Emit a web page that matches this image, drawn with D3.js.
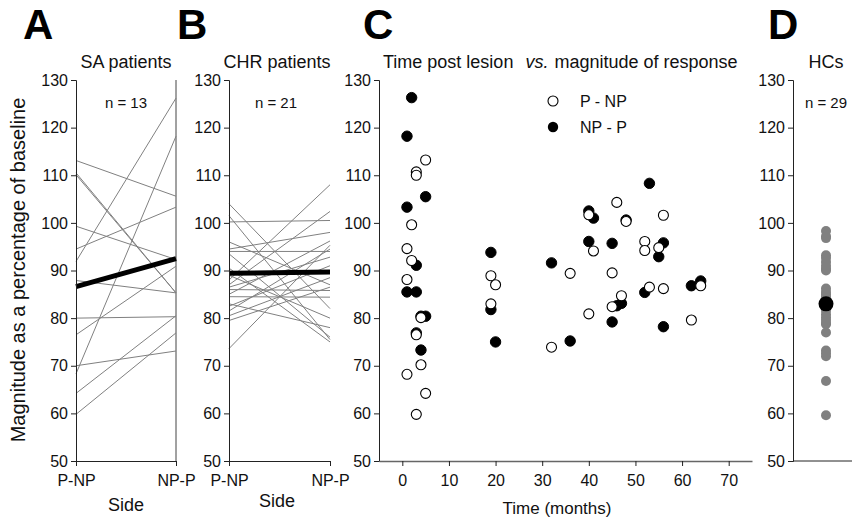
<!DOCTYPE html>
<html>
<head>
<meta charset="utf-8">
<script src="https://cdn.jsdelivr.net/npm/d3@7"></script>
<style>
  body { margin: 0; background: #fff; }
  svg { font-family: "Liberation Sans", Arial, sans-serif; }
</style>
</head>
<body>
<svg id="chart" width="852" height="522"></svg>
<script>
// panel A: SA patients, P-NP -> NP-P
const sides = ["P-NP", "NP-P"];
const saLeft  = [113.1, 110.5, 110.1, 99.3, 94.5, 91.9, 87.9, 80.0, 76.5, 70.0, 68.3, 64.2, 59.8];
const saRight = [105.6, 85.3, 85.3, 92.3, 103.3, 126.2, 85.3, 80.3, 90.9, 73.1, 118.2, 80.5, 76.9];
const saMean = [86.6, 92.5];

// panel B: CHR patients
const chrLeft  = [104.0, 101.5, 100.2, 96.0, 94.5, 94.0, 93.5, 90.5, 89.0, 88.0, 87.0,
                  86.5, 86.0, 85.0, 84.5, 83.0, 82.5, 81.5, 80.5, 79.5, 73.6];
const chrRight = [82.0, 75.5, 100.5, 87.0, 98.0, 94.0, 76.0, 75.0, 80.0, 108.0, 102.4,
                  92.8, 85.8, 96.2, 84.4, 78.0, 91.0, 94.5, 88.5, 86.5, 95.3];
const chrMean = [89.4, 89.7];

// panel C: time post lesion vs magnitude
const pnpMonths = [5, 3, 3, 2, 1, 2, 1, 4, 3, 4, 1, 5, 3,
                   19, 20, 19, 46, 40, 48, 56, 52, 52, 55, 41, 36, 45, 53, 56, 47, 45, 64, 40, 62, 32];
const pnpValues = [113.2, 110.7, 110.0, 99.6, 94.6, 92.1, 88.1, 80.1, 76.5, 70.2, 68.2, 64.2, 59.8,
                   88.9, 87.0, 83.0, 104.3, 101.7, 100.3, 101.6, 96.1, 94.2, 94.8, 94.1, 89.4, 89.5,
                   86.5, 86.2, 84.7, 82.4, 86.8, 80.9, 79.6, 73.9];
const nppMonths = [2, 1, 1, 5, 3, 1, 3, 4, 5, 3, 4,
                   19, 19, 20, 53, 40, 41, 48, 40, 45, 56, 55, 32, 52, 47, 46, 62, 64, 45, 56, 36];
const nppValues = [126.3, 118.2, 103.3, 105.5, 91.1, 85.5, 85.5, 80.4, 80.4, 76.9, 73.3,
                   93.8, 81.8, 75.0, 108.3, 102.5, 101.0, 100.6, 96.1, 95.7, 95.8, 92.9, 91.6,
                   85.4, 83.1, 82.6, 86.8, 87.8, 79.2, 78.2, 75.2];
const monthTicks = [0, 10, 20, 30, 40, 50, 60, 70];

// panel D: healthy controls
const hcValues = [98.3, 97.2, 96.8, 93.2, 92.6, 91.8, 91.0, 90.4, 90.0, 86.2, 85.5, 85.0,
                  84.5, 84.0, 83.8, 82.5, 82.0, 81.6, 80.8, 80.2, 79.6, 79.0, 78.7, 77.0,
                  73.2, 72.6, 72.0, 66.8, 59.6];
const hcMean = 83.0;

const yTicks = [50, 60, 70, 80, 90, 100, 110, 120, 130];

const svg = d3.select("#chart");
const y = d3.scaleLinear().domain([50, 130]).range([461, 80]);
const grey = "#808080";

const yAxis = (x0) => {
  const g = svg.append("g").attr("transform", `translate(${x0},0)`)
    .call(d3.axisLeft(y).tickValues(yTicks).tickSize(5).tickPadding(3));
  g.select(".domain").attr("stroke", "#222");
  g.selectAll(".tick line").attr("stroke", "#222");
  g.selectAll("text").attr("font-size", 16).attr("fill", "#111")
    .attr("font-family", "Liberation Sans, Arial, sans-serif");
  return g;
};

const bottomAxis = (scale, ticks, size) => {
  const g = svg.append("g").attr("transform", `translate(0,${y(50)})`)
    .call(d3.axisBottom(scale).tickValues(ticks).tickSize(5).tickPadding(9).tickSizeOuter(0));
  g.select(".domain").attr("stroke", "#222");
  g.selectAll(".tick line").attr("stroke", "#222");
  g.selectAll("text").attr("font-size", size).attr("fill", "#111")
    .attr("font-family", "Liberation Sans, Arial, sans-serif");
  return g;
};

const label = (x, yy, txt, size) => svg.append("text").attr("x", x).attr("y", yy)
  .attr("text-anchor", "middle").attr("font-size", size).attr("fill", "#111").text(txt);

const bigLetter = (x, txt) => svg.append("text").attr("x", x).attr("y", 39)
  .attr("font-size", 42).attr("font-weight", "bold").attr("fill", "#000").text(txt);

// ---------- panel A ----------
const xA = d3.scalePoint().domain(sides).range([76, 176]);
svg.append("line").attr("x1", xA("NP-P")).attr("x2", xA("NP-P"))
  .attr("y1", y(130)).attr("y2", y(50)).attr("stroke", "#444");
svg.selectAll(".saLine").data(saLeft).enter().append("line")
  .attr("x1", xA("P-NP")).attr("x2", xA("NP-P"))
  .attr("y1", d => y(d)).attr("y2", (d, i) => y(saRight[i]))
  .attr("stroke", grey).attr("stroke-width", 1);
svg.append("line").attr("x1", xA("P-NP")).attr("x2", xA("NP-P"))
  .attr("y1", y(saMean[0])).attr("y2", y(saMean[1]))
  .attr("stroke", "#000").attr("stroke-width", 5);
yAxis(76);
bottomAxis(xA, sides, 16);
bigLetter(23, "A");
label(126, 68, "SA patients", 18);
label(126, 108, "n = 13", 15);
label(126, 511, "Side", 18);

// ---------- panel B ----------
const xB = d3.scalePoint().domain(sides).range([229, 330]);
svg.selectAll(".chrLine").data(chrLeft).enter().append("line")
  .attr("x1", xB("P-NP")).attr("x2", xB("NP-P"))
  .attr("y1", d => y(d)).attr("y2", (d, i) => y(chrRight[i]))
  .attr("stroke", grey).attr("stroke-width", 1);
svg.append("line").attr("x1", xB("P-NP")).attr("x2", xB("NP-P"))
  .attr("y1", y(chrMean[0])).attr("y2", y(chrMean[1]))
  .attr("stroke", "#000").attr("stroke-width", 5);
yAxis(229);
bottomAxis(xB, sides, 16);
bigLetter(177, "B");
label(277, 68, "CHR patients", 18);
label(276, 108, "n = 21", 15);
label(277, 507, "Side", 18);

// ---------- panel C ----------
const xC = d3.scaleLinear().domain([-5, 75]).range([379, 752]);
yAxis(379);
const axC = bottomAxis(xC, monthTicks, 16);
axC.select(".domain").attr("stroke", "#666").attr("stroke-width", 1.5);
svg.selectAll(".npp").data(nppValues).enter().append("circle")
  .attr("cx", (d, i) => xC(nppMonths[i])).attr("cy", d => y(d)).attr("r", 5.2)
  .attr("fill", "#000").attr("stroke", "#000");
svg.selectAll(".pnp").data(pnpValues).enter().append("circle")
  .attr("cx", (d, i) => xC(pnpMonths[i])).attr("cy", d => y(d)).attr("r", 5)
  .attr("fill", "#fff").attr("stroke", "#000").attr("stroke-width", 1.1);
bigLetter(363, "C");
const titleC = svg.append("text").attr("x", 383).attr("y", 68)
  .attr("font-size", 18).attr("fill", "#111");
titleC.append("tspan").text("Time post lesion");
titleC.append("tspan").attr("dx", 12).attr("font-style", "italic").text("vs.");
titleC.append("tspan").attr("dx", 6).text("magnitude of response");
label(557, 514, "Time (months)", 17);

// legend
svg.append("circle").attr("cx", 553).attr("cy", 101).attr("r", 5)
  .attr("fill", "#fff").attr("stroke", "#000").attr("stroke-width", 1.1);
svg.append("circle").attr("cx", 553).attr("cy", 127).attr("r", 5.2).attr("fill", "#000");
svg.append("text").attr("x", 580).attr("y", 107).attr("font-size", 16).attr("fill", "#111").text("P - NP");
svg.append("text").attr("x", 580).attr("y", 133).attr("font-size", 16).attr("fill", "#111").text("NP - P");

// ---------- panel D ----------
const xD = d3.scaleBand().domain(["HCs"]).range([793, 859]);
const cxD = xD("HCs") + xD.bandwidth() / 2;
yAxis(793);
svg.append("line").attr("x1", 793).attr("x2", 852).attr("y1", y(50)).attr("y2", y(50))
  .attr("stroke", "#222");
svg.selectAll(".hc").data(hcValues).enter().append("circle")
  .attr("cx", cxD).attr("cy", d => y(d)).attr("r", 5).attr("fill", grey);
svg.append("circle").attr("cx", cxD).attr("cy", y(hcMean)).attr("r", 7.5).attr("fill", "#000");
bigLetter(768, "D");
label(826, 68, "HCs", 18);
label(826, 108, "n = 29", 15);

// y axis title
svg.append("text").attr("transform", "translate(25,270) rotate(-90)")
  .attr("text-anchor", "middle").attr("font-size", 20).attr("fill", "#111")
  .text("Magnitude as a percentage of baseline");
</script>
</body>
</html>
